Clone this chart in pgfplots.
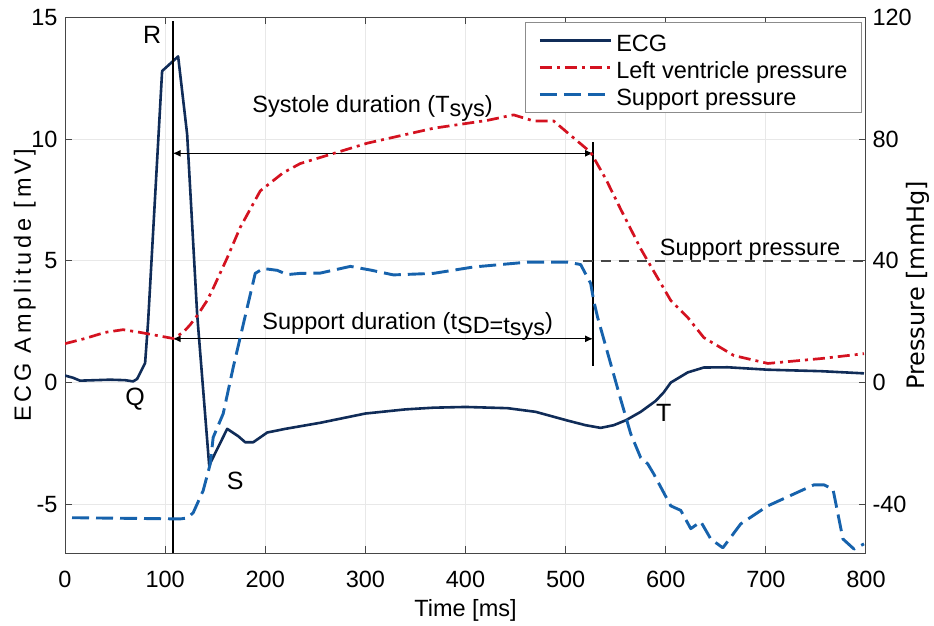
\documentclass[border=0pt]{standalone}
\usepackage{fontspec}
\setmainfont{Liberation Sans}
\newfontfamily\dejavu{DejaVu Sans}
\newfontfamily\spaced[LetterSpace=16]{Liberation Sans}
\usepackage{pgfplots}
\pgfplotsset{compat=1.18}
\usetikzlibrary{arrows.meta}
\definecolor{ecgc}{RGB}{16,44,88}
\definecolor{lvc}{RGB}{212,18,32}
\definecolor{spc}{RGB}{22,98,172}
\definecolor{axc}{RGB}{70,70,70}
\definecolor{gridc}{RGB}{232,232,232}
\definecolor{legc}{RGB}{140,140,140}
\tikzset{
 ecgline/.style={color=ecgc,line width=2.6bp,solid,line join=round},
 lvline/.style={color=lvc,line width=2.7bp,dash pattern=on 12bp off 5bp on 3bp off 5bp,line join=round},
 spline/.style={color=spc,line width=2.9bp,dash pattern=on 17bp off 7bp,line join=round},
}
\newcommand{\mf}{\fontsize{23.5bp}{28bp}\selectfont}
\begin{document}
\begin{tikzpicture}[font=\mf]
\useasboundingbox (-65bp,-73bp) rectangle (869bp,553bp);
\begin{axis}[
 at={(0,0)}, anchor=south west,
 scale only axis, width=801bp, height=535.5bp,
 xmin=0, xmax=800, ymin=-7, ymax=15,
 xtick={0,100,...,800}, ytick={-5,0,5,10,15},
 xtick pos=both, xticklabel pos=lower, ytick pos=left,
 tick align=inside, major tick length=7bp,
 axis line style={draw=axc,line width=1bp},
 major tick style={draw=axc,line width=1bp},
 grid=major, major grid style={draw=gridc,line width=1bp},
 /pgf/number format/assume math mode=true,
 tick label style={font=\mf, text=black},
 xticklabel style={anchor=base, yshift=-34bp},
 yticklabel style={xshift=-4bp},
 xlabel={Time [ms]},
 xlabel style={at={(axis description cs:0.5,-0.1195)}, anchor=base, font=\mf},
 ylabel={\spaced ECG Amplitude [mV]},
 ylabel style={at={(axis description cs:-0.04245,0.5)}, anchor=base, font=\mf},
 no markers,
]
\addplot[ecgline] coordinates {
(0,0.29) (8,0.2) (15,0.08) (30,0.1) (45,0.12) (60,0.1) (68,0.05) (72,0.15) (80,0.8) (83,2.5)
(97,12.8) (113,13.4) (122,10.2) (132,2.8) (144,-3.4) (162,-1.9) (173,-2.2) (180,-2.45) (188,-2.45)
(202,-2.05) (220,-1.9) (255,-1.65) (300,-1.27) (340,-1.1) (368,-1.03) (400,-1.0) (442,-1.05)
(470,-1.2) (502,-1.56) (520,-1.75) (535,-1.86) (548,-1.75) (560,-1.55) (575,-1.2) (590,-0.75)
(598,-0.4) (605,0) (622,0.42) (638,0.62) (662,0.63) (702,0.53) (755,0.47) (798,0.38)
};
\draw[black,line width=1.8bp] (axis cs:107.5,-7) -- (axis cs:107.5,14.85);
\draw[black,line width=1.8bp] (axis cs:527.5,9.88) -- (axis cs:527.5,0.7);
\draw[black,line width=1.3bp,{Latex[length=8bp,width=7bp]}-{Latex[length=8bp,width=7bp]}] (axis cs:107.5,9.42) -- (axis cs:527.5,9.42);
\draw[black,line width=1.3bp,{Latex[length=8bp,width=7bp]}-{Latex[length=8bp,width=7bp]}] (axis cs:107.5,1.8) -- (axis cs:527.5,1.8);
\draw[axc,line width=1.3bp,dash pattern=on 10bp off 8bp] (axis cs:517,5) -- (axis cs:800,5);
\node[anchor=base west,inner sep=0pt] at (axis cs:187,11.11) {Systole duration (T\raisebox{-4.5bp}{sys})};
\node[anchor=base west,inner sep=0pt] at (axis cs:197,2.18) {Support duration (t\raisebox{-4bp}{SD=t\raisebox{-1.5bp}{sys}})};
\node[anchor=base west,inner sep=0pt] at (axis cs:594,5.23) {Support pressure};
\node[font=\fontsize{25bp}{28bp}\selectfont] at (axis cs:87,14.28) {R};
\node[font=\fontsize{25bp}{28bp}\selectfont] at (axis cs:70,-0.66) {Q};
\node[font=\fontsize{25bp}{28bp}\selectfont] at (axis cs:170,-4.03) {S};
\node[font=\fontsize{25bp}{28bp}\selectfont] at (axis cs:598,-1.23) {T};
\end{axis}
\begin{axis}[
 at={(0,0)}, anchor=south west,
 scale only axis, width=801bp, height=535.5bp,
 xmin=0, xmax=800, ymin=-56, ymax=120,
 axis x line=none, axis y line*=right,
 ytick={-40,0,40,80,120},
 tick align=inside, major tick length=7bp,
 axis line style={draw=axc,line width=1bp},
 major tick style={draw=axc,line width=1bp},
 /pgf/number format/assume math mode=true,
 tick label style={font=\mf, text=black},
 yticklabel style={xshift=3bp},
 ylabel={\dejavu Pressure [mmHg]},
 ylabel style={at={(axis description cs:1.073,0.5)}, anchor=base, font=\fontsize{24bp}{28bp}\selectfont},
 no markers,
 legend cell align=left,
 legend style={at={(0.995,0.9916)}, anchor=north east, draw=legc, line width=1bp, fill=white,
   inner xsep=13bp, inner ysep=6bp, row sep=3bp, column sep=3bp, font=\mf,
   nodes={inner sep=1bp, text height=22bp, text depth=0bp}},
 legend image code/.code={\draw[#1] (0bp,0bp) -- (71bp,0bp);},
]
\addlegendimage{ecgline}
\addlegendentry{ECG}
\addplot[lvline] coordinates {
(0,12.8) (20,14.5) (40,16.5) (58,17.4) (75,16.5) (95,15.3) (108,14.5) (118,16.5) (125,19)
(132,22) (142,27) (148,31) (162,41) (175,51) (195,63) (218,69) (235,72) (255,74) (302,78.7)
(368,83.6) (422,86.2) (448,88) (468,86) (488,86) (525,75.7) (540,67) (555,57) (575,44) (582,40)
(605,27) (622,21.4) (638,14.8) (668,8.9) (702,6.3) (755,7.9) (798,9.5)
};
\addlegendentry{Left ventricle pressure}
\addplot[spline] coordinates {
(7,-44.4) (60,-44.6) (115,-44.8) (122,-44.5) (128,-42.8) (138,-35.5) (145,-26.8) (148,-18)
(158,-10.2) (168,5) (182,24.7) (190,35.9) (198,37.5) (212,36.9) (222,35.5) (235,35.9) (255,36)
(285,38.2) (305,37) (328,35.4) (368,35.9) (408,38) (462,39.6) (502,39.6) (515,38.8) (525,32.6)
(528,27) (532,21.4) (555,-5.5) (565,-16.8) (575,-24.7) (582,-26.7) (588,-30) (605,-40.5)
(615,-42) (625,-48) (635,-45.7) (645,-51.4) (657,-54.3) (675,-46.4) (702,-40.5) (732,-36)
(748,-33.6) (758,-33.6) (767,-35) (777,-51.4) (788,-54.7) (798,-53)
};
\addlegendentry{Support pressure}
\end{axis}
\end{tikzpicture}
\end{document}
